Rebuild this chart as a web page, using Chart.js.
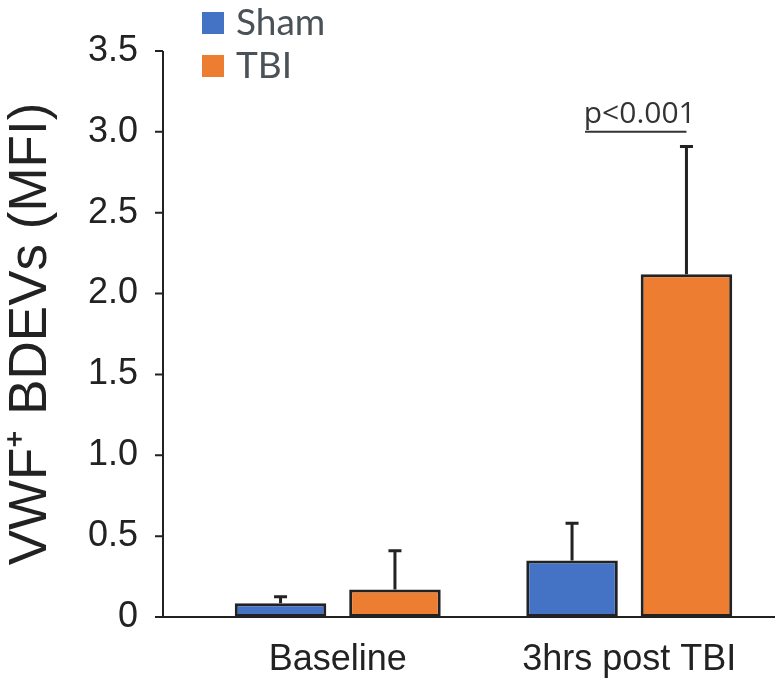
<!DOCTYPE html>
<html><head><meta charset="utf-8">
<script src="https://cdn.jsdelivr.net/npm/chart.js@4/dist/chart.umd.min.js"></script>
<style>html,body{margin:0;padding:0;background:#fff}#wrap{width:775px;height:686px;position:relative}</style>
</head><body><div id="wrap"><canvas id="c"></canvas></div>
<script>
// ---- data ----
const categories = ['Baseline', '3hrs post TBI'];
const seriesNames = ['Sham', 'TBI'];
const shamMeans = [0.085, 0.35];
const shamErrors = [0.04, 0.23];
const tbiMeans = [0.17, 2.12];
const tbiErrors = [0.24, 0.79];
const yTicks = [0, 0.5, 1.0, 1.5, 2.0, 2.5, 3.0, 3.5];
const yTitle = 'VWF\u207A BDEVs (MFI)';
const annotationText = 'p<0.001';
const annotationLevel = 3.0;
const annotationCategory = 1;

// ---- style ----
const COLORS = ['#4472C4', '#ED7D31'];
const INK = '#222222';
const AXIS_GAP = 29;      // y-axis line sits left of plot area
const TICK_LEN = 8;

const errors = [shamErrors, tbiErrors];

const axesPlugin = {
  id: 'axesPlugin',
  afterDatasetsDraw(chart) {
    const {ctx, scales: {y}, chartArea} = chart;
    const ax = chartArea.left - AXIS_GAP;
    const y0 = y.getPixelForValue(yTicks[0]);
    const yTop = y.getPixelForValue(yTicks[yTicks.length - 1]);
    ctx.save();
    ctx.strokeStyle = INK;
    ctx.lineWidth = 2;
    ctx.beginPath();
    ctx.moveTo(ax, yTop);
    ctx.lineTo(ax, y0);
    ctx.moveTo(ax, y0);
    ctx.lineTo(chart.width, y0);
    yTicks.forEach(v => {
      const py = y.getPixelForValue(v);
      ctx.moveTo(ax - TICK_LEN, py);
      ctx.lineTo(ax, py);
    });
    ctx.stroke();

    // error bars
    ctx.lineWidth = 3;
    chart.data.datasets.forEach((ds, di) => {
      const meta = chart.getDatasetMeta(di);
      meta.data.forEach((bar, i) => {
        const top = y.getPixelForValue(ds.data[i] + errors[di][i]);
        const base = y.getPixelForValue(ds.data[i]);
        ctx.beginPath();
        ctx.moveTo(bar.x, base);
        ctx.lineTo(bar.x, top);
        ctx.moveTo(bar.x - 6.5, top);
        ctx.lineTo(bar.x + 6.5, top);
        ctx.stroke();
      });
    });

    // significance annotation
    const b0 = chart.getDatasetMeta(0).data[annotationCategory];
    const b1 = chart.getDatasetMeta(1).data[annotationCategory];
    const ly = y.getPixelForValue(annotationLevel);
    const x1 = b0.x + 13, x2 = b1.x;
    ctx.strokeStyle = '#333';
    ctx.lineWidth = 2;
    ctx.beginPath();
    ctx.moveTo(x1, ly);
    ctx.lineTo(x2, ly);
    ctx.stroke();
    ctx.fillStyle = '#333';
    ctx.font = '30px "Open Sans"';
    ctx.textAlign = 'center';
    ctx.textBaseline = 'alphabetic';
    ctx.fillText(annotationText, (x1 + x2) / 2 + 4, ly - 9);

    // legend
    ctx.font = '37px Lato';
    ctx.textAlign = 'left';
    ctx.textBaseline = 'middle';
    chart.data.datasets.forEach((ds, di) => {
      const sy = 12 + di * 43;
      ctx.fillStyle = ds.backgroundColor;
      ctx.fillRect(202, sy, 22, 22);
      ctx.fillStyle = '#4a5157';
      ctx.fillText(ds.label, 236, sy + 11);
    });
    ctx.restore();
  }
};

new Chart(document.getElementById('c'), {
  type: 'bar',
  data: {
    labels: categories,
    datasets: [
      {label: seriesNames[0], data: shamMeans, backgroundColor: COLORS[0]},
      {label: seriesNames[1], data: tbiMeans, backgroundColor: COLORS[1]}
    ]
  },
  options: {
    responsive: true,
    maintainAspectRatio: false,
    animation: false,
    layout: {padding: {top: 51, left: 0, right: 0, bottom: 0}},
    datasets: {bar: {borderColor: INK, borderWidth: 3, borderSkipped: false,
      categoryPercentage: 0.785, barPercentage: 0.8}},
    plugins: {legend: {display: false}, tooltip: {enabled: false}},
    scales: {
      x: {
        grid: {display: false, drawTicks: false},
        border: {display: false},
        ticks: {color: INK, font: {family: 'Liberation Sans', size: 36}, padding: 21, maxRotation: 0},
        afterFit(s) { s.height = 69; s.paddingLeft = 0; s.paddingRight = 0; }
      },
      y: {
        min: 0, max: 3.5,
        afterBuildTicks(s) { s.ticks = yTicks.map(v => ({value: v})); },
        grid: {display: false, drawTicks: false},
        border: {display: false},
        ticks: {color: INK, font: {family: 'Liberation Sans', size: 36}, padding: 54,
          callback: v => v === 0 ? '0' : v.toFixed(1)},
        title: {display: true, text: yTitle, color: INK,
          font: {family: 'Liberation Sans', size: 53}, padding: {top: 0, bottom: 0}},
        afterFit(s) { s.width = 192; s.paddingTop = 0; s.paddingBottom = 0; }
      }
    }
  },
  plugins: [axesPlugin]
});
</script></body></html>
